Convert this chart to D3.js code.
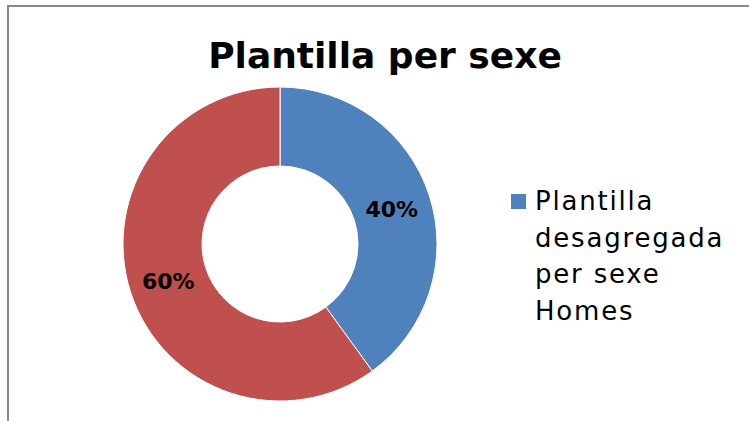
<!DOCTYPE html>
<html>
<head>
<meta charset="utf-8">
<script src="https://cdn.jsdelivr.net/npm/d3@7"></script>
<style>
	body { margin: 0; background: #fff; }
	svg { display: block; font-family: "DejaVu Sans", sans-serif; }
</style>
</head>
<body>
<div id="vis"></div>
<script>
var categories = ["Plantilla desagregada per sexe Homes", "Plantilla desagregada per sexe Dones"];
var values = [40, 60];
var labels = ["40%", "60%"];
var legendLines = ["Plantilla", "desagregada", "per sexe", "Homes"];
var colours = ["#4F81BD", "#C0504D"];

var w = 749, h = 421;

var svg = d3.select("#vis").append("svg")
.attr("width", w)
.attr("height", h);

// chart frame (only top and left edges show in the picture)
svg.append("line")
.attr("x1", 8).attr("y1", 6).attr("x2", w).attr("y2", 6)
.attr("stroke", "#898989").attr("stroke-width", 2);
svg.append("line")
.attr("x1", 8).attr("y1", 5).attr("x2", 8).attr("y2", h)
.attr("stroke", "#898989").attr("stroke-width", 2);

svg.append("text")
.attr("x", 385)
.attr("y", 68)
.attr("text-anchor", "middle")
.attr("font-size", 36)
.attr("font-weight", "bold")
.attr("fill", "#000")
.text("Plantilla per sexe");

var outerR = 157, innerR = 78;
var g = svg.append("g")
.attr("transform", "translate(280,244)");

var pie = d3.pie().sort(null).value(function (d) { return d; });
var arc = d3.arc().innerRadius(innerR).outerRadius(outerR);
var labelArc = d3.arc().innerRadius((innerR+outerR)/2).outerRadius((innerR+outerR)/2);

var slices = g.selectAll(".slice")
.data(pie(values))
.enter()
.append("g")
.attr("class", "slice");

slices.append("path")
.attr("d", arc)
.attr("fill", function (d, i) { return colours[i]; })
.attr("stroke", "#fff")
.attr("stroke-width", 1);

slices.append("text")
.attr("transform", function (d) {
	var c = labelArc.centroid(d);
	return "translate("+c[0]+","+(c[1]+9)+")";
})
.attr("text-anchor", "middle")
.attr("font-size", 22)
.attr("font-weight", "bold")
.attr("fill", "#000")
.text(function (d, i) { return labels[i]; });

// legend, first category only as in the original
var legend = svg.append("g")
.attr("transform", "translate(511,194)");

legend.append("rect")
.attr("x", 0).attr("y", 0)
.attr("width", 15).attr("height", 15)
.attr("fill", colours[0]);

legend.append("text")
.attr("font-size", 26)
.attr("letter-spacing", 1.8)
.attr("fill", "#000")
.selectAll("tspan")
.data(legendLines)
.enter()
.append("tspan")
.attr("x", 24)
.attr("y", function (d, i) { return 16 + i*36.5; })
.text(function (d) { return d; });
</script>
</body>
</html>
